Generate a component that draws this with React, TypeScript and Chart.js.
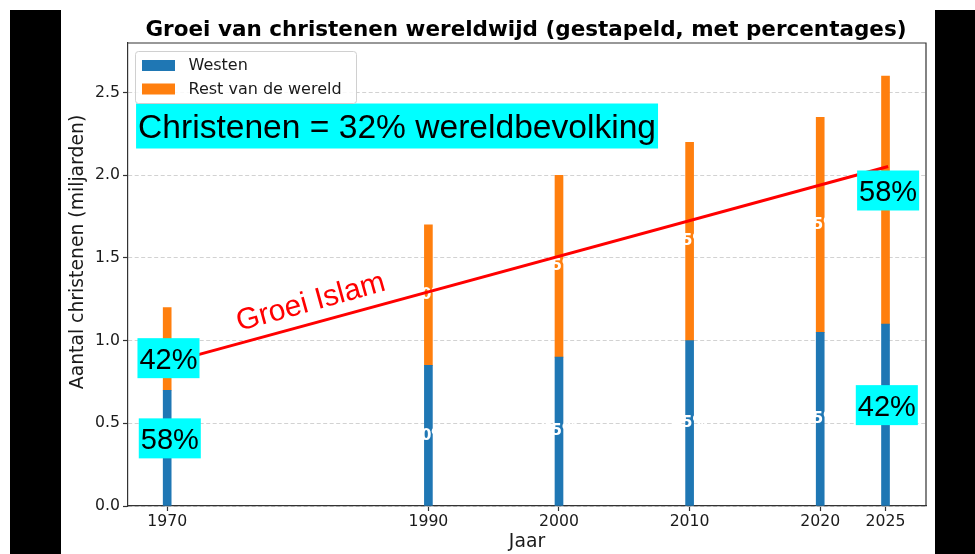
import React, { useEffect, useRef } from 'react';
import { Chart, registerables } from 'chart.js';

Chart.register(...registerables);

// ---- data ----
const years = [1970, 1990, 2000, 2010, 2020, 2025];
const westen = [0.7, 0.85, 0.9, 1.0, 1.05, 1.1];
const restVanDeWereld = [0.5, 0.85, 1.1, 1.2, 1.3, 1.5];
const yTickValues = [0, 0.5, 1.0, 1.5, 2.0, 2.5];
const islamLineX = [1970, 2025.2];
const islamLineY = [0.864, 2.053];
const islamLabel = 'Groei Islam';
const islamLabelX = 1981.0;
const islamLabelY = 1.23;
const calloutTexts = ['Christenen = 32% wereldbevolking', '42%', '58%', '58%', '42%'];
const calloutX = [1987.6, 1970.1, 1970.2, 2025.2, 2025.1];
const calloutY = [2.298, 0.894, 0.409, 1.908, 0.61];
const calloutSize = [33.6, 29, 29, 29, 29];
const seriesNames = ['Westen', 'Rest van de wereld'];
const seriesColors = ['#1f77b4', '#ff7f0e'];
const chartTitle = 'Groei van christenen wereldwijd (gestapeld, met percentages)';
const xTitle = 'Jaar';
const yTitle = 'Aantal christenen (miljarden)';

const DV = '"DejaVu Sans", sans-serif';
const LS = '"Liberation Sans", Arial, sans-serif';
const AXIS = '#333333';
const TXT = '#1a1a1a';

const decorPlugin = {
  id: 'decor',
  beforeDraw(chart: any) {
    const { ctx, width, height } = chart;
    ctx.save();
    ctx.fillStyle = '#ffffff';
    ctx.fillRect(0, 0, width, height);
    ctx.fillStyle = '#000000';
    ctx.fillRect(10, 10, 51, height - 10);
    ctx.fillRect(935, 10, width - 935, height - 10);
    ctx.restore();
  },
  afterDatasetDraw(chart: any, args: any) {
    if (args.index !== 0) return;
    const { ctx } = chart;
    const xs = chart.scales.x;
    const ys = chart.scales.y;
    ctx.save();
    ctx.font = `bold 15px ${DV}`;
    ctx.fillStyle = '#ffffff';
    ctx.textAlign = 'center';
    ctx.textBaseline = 'middle';
    years.forEach((yr, i) => {
      const tot = westen[i] + restVanDeWereld[i];
      const px = xs.getPixelForValue(yr);
      ctx.fillText(Math.round((westen[i] / tot) * 100) + '%', px, ys.getPixelForValue(westen[i] / 2));
      ctx.fillText(
        Math.round((restVanDeWereld[i] / tot) * 100) + '%',
        px,
        ys.getPixelForValue(westen[i] + restVanDeWereld[i] / 2)
      );
    });
    ctx.restore();
  },
  afterDatasetsDraw(chart: any) {
    const { ctx } = chart;
    const xs = chart.scales.x;
    const ys = chart.scales.y;
    ctx.save();
    // cyan callouts
    calloutTexts.forEach((t, i) => {
      const size = calloutSize[i];
      ctx.font = `${size}px ${LS}`;
      const w = ctx.measureText(t).width + 4;
      const h = i === 0 ? 45 : 40;
      const cx = xs.getPixelForValue(calloutX[i]);
      const cy = ys.getPixelForValue(calloutY[i]);
      ctx.fillStyle = '#00ffff';
      ctx.fillRect(cx - w / 2, cy - h / 2, w, h);
      ctx.fillStyle = '#000000';
      ctx.textAlign = 'center';
      ctx.textBaseline = 'alphabetic';
      ctx.fillText(t, cx, cy + (size * 0.716) / 2);
    });
    // Groei Islam label
    ctx.translate(xs.getPixelForValue(islamLabelX), ys.getPixelForValue(islamLabelY));
    ctx.rotate((-15.5 * Math.PI) / 180);
    ctx.font = `30px ${LS}`;
    ctx.fillStyle = '#ff0000';
    ctx.textAlign = 'center';
    ctx.textBaseline = 'middle';
    ctx.fillText(islamLabel, 0, 0);
    ctx.restore();
  },
  afterDraw(chart: any) {
    const { ctx, chartArea } = chart;
    const { left, right, top, bottom } = chartArea;
    ctx.save();
    // top/right spines
    ctx.strokeStyle = AXIS;
    ctx.lineWidth = 1.2;
    ctx.beginPath();
    ctx.moveTo(left, top);
    ctx.lineTo(right, top);
    ctx.lineTo(right, bottom);
    ctx.stroke();

    // legend
    const lx = left + 7.5;
    const ly = top + 8.5;
    const lw = 221;
    const lh = 52;
    ctx.beginPath();
    ctx.roundRect(lx, ly, lw, lh, 3);
    ctx.fillStyle = 'rgba(255,255,255,0.85)';
    ctx.fill();
    ctx.strokeStyle = '#d0d0d0';
    ctx.lineWidth = 1;
    ctx.stroke();
    ctx.font = `16px ${DV}`;
    ctx.textAlign = 'left';
    ctx.textBaseline = 'middle';
    seriesNames.forEach((name, i) => {
      const rowY = ly + 14 + i * 23.5;
      ctx.fillStyle = seriesColors[i];
      ctx.fillRect(lx + 6.5, rowY - 5.5, 33, 11);
      ctx.fillStyle = TXT;
      ctx.fillText(name, lx + 53, rowY + 0.5);
    });

    // title
    ctx.fillStyle = '#000000';
    ctx.font = `bold 21.5px ${DV}`;
    ctx.textAlign = 'center';
    ctx.textBaseline = 'alphabetic';
    ctx.fillText(chartTitle, (left + right) / 2 - 1, 35.5);

    // axis titles
    ctx.fillStyle = TXT;
    ctx.font = `18.8px ${DV}`;
    ctx.textBaseline = 'middle';
    ctx.fillText(xTitle, (left + right) / 2, 542);
    ctx.translate(78, 252);
    ctx.rotate(-Math.PI / 2);
    ctx.fillText(yTitle, 0, 0);
    ctx.restore();
  },
};

export default function App() {
  const ref = useRef<HTMLCanvasElement | null>(null);
  useEffect(() => {
    document.body.style.margin = '0';
    const canvas = ref.current;
    if (!canvas) return;
    const chart = new Chart(canvas, {
      type: 'bar',
      data: {
        datasets: [
          {
            type: 'bar',
            label: seriesNames[0],
            data: years.map((x, i) => ({ x, y: westen[i] })),
            backgroundColor: seriesColors[0],
            barThickness: 8,
            order: 1,
          },
          {
            type: 'bar',
            label: seriesNames[1],
            data: years.map((x, i) => ({ x, y: restVanDeWereld[i] })),
            backgroundColor: seriesColors[1],
            barThickness: 8,
            order: 1,
          },
          {
            type: 'line',
            label: 'Groei Islam',
            data: islamLineX.map((x, i) => ({ x, y: islamLineY[i] })),
            borderColor: '#ff0000',
            borderWidth: 3,
            pointRadius: 0,
            fill: false,
            order: 0,
          } as any,
        ],
      },
      options: {
        responsive: false,
        animation: false,
        devicePixelRatio: 1,
        layout: { padding: { top: 43, right: 49, left: 0, bottom: 0 } },
        plugins: {
          legend: { display: false },
          tooltip: { enabled: false },
          title: { display: false },
        },
        scales: {
          x: {
            type: 'linear',
            min: 1967,
            max: 2028.1,
            stacked: true,
            offset: false,
            afterFit: (s: any) => {
              s.height = 48;
            },
            afterBuildTicks: (s: any) => {
              s.ticks = years.map((v) => ({ value: v }));
            },
            ticks: {
              autoSkip: false,
              maxRotation: 0,
              padding: 2,
              color: TXT,
              font: { family: DV, size: 15.7 },
              callback: (v: any) => String(v),
            },
            grid: {
              offset: false,
              drawOnChartArea: false,
              drawTicks: true,
              tickLength: 5,
              tickColor: AXIS,
              tickWidth: 1.2,
            },
            border: { display: true, color: AXIS, width: 1.2 },
          },
          y: {
            type: 'linear',
            min: 0,
            max: 2.8,
            stacked: true,
            afterFit: (s: any) => {
              s.width = 128;
            },
            afterBuildTicks: (s: any) => {
              s.ticks = yTickValues.map((v) => ({ value: v }));
            },
            ticks: {
              padding: 3,
              color: TXT,
              font: { family: DV, size: 15.7 },
              callback: (v: any) => Number(v).toFixed(1),
            },
            grid: {
              color: '#d2d2d2',
              lineWidth: 1,
              drawTicks: true,
              tickLength: 5,
              tickColor: AXIS,
              tickWidth: 1.2,
            },
            border: { display: true, color: AXIS, width: 1.2, dash: [4, 2.5] },
          },
        },
      },
      plugins: [decorPlugin],
    } as any);
    return () => chart.destroy();
  }, []);
  return (
    <div style={{ position: 'relative', width: 975, height: 554 }}>
      <canvas ref={ref} width={975} height={554} style={{ display: 'block', width: 975, height: 554 }} />
    </div>
  );
}
